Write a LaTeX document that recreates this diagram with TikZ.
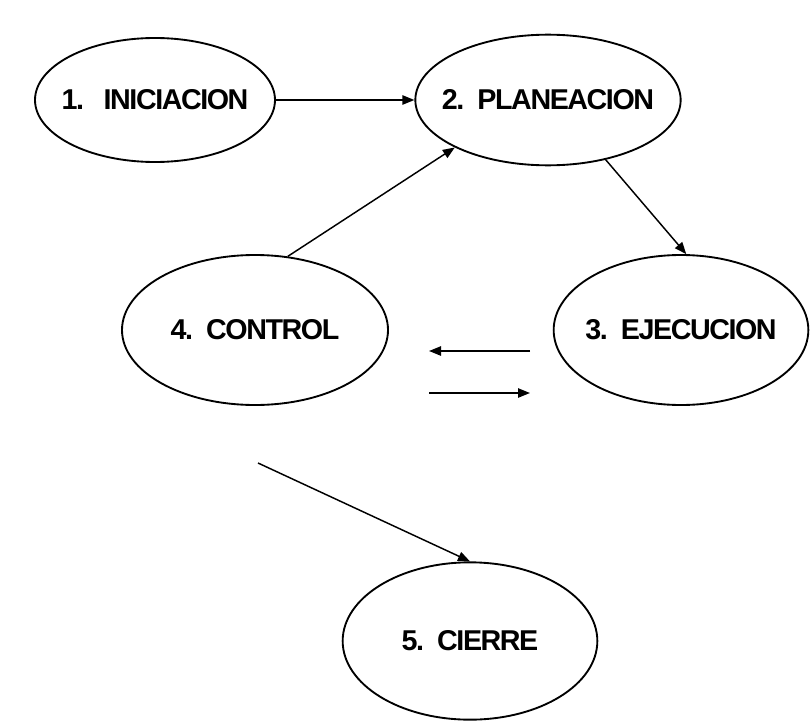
\documentclass[tikz,border=0pt]{standalone}
\usepackage{fontspec}
\setmainfont{Liberation Sans}
\usetikzlibrary{shapes.geometric,arrows.meta}
\begin{document}
\begin{tikzpicture}[x=0.75pt,y=-0.75pt,
  phasetext/.style={inner sep=0pt,
    font=\bfseries\fontsize{21.5}{26}\selectfont\addfontfeature{LetterSpace=-5}},
  phase/.style n args={3}{draw,ellipse,line width=1.4pt,inner sep=0pt,
    minimum width=#1,minimum height=#2,label={[phasetext]center:#3}},
  flow/.style={line width=1.1pt,-{Triangle[length=9pt,width=7pt]}}]
\useasboundingbox (0,0) rectangle (810,724);

% project phases (outline sized independently of the label)
\node[phase={180pt}{93pt}{1.\ \ \ INICIACION}]     (c1) at (155,100) {};
\node[phase={199pt}{98pt}{2.\ \ PLANEACION}]       (c2) at (548,100) {};
\node[phase={191pt}{112.5pt}{3.\ \ EJECUCION}]     (c3) at (681,330) {};
\node[phase={199.5pt}{112.5pt}{4.\ \ CONTROL}]     (c4) at (255,330) {};
\node[phase={191pt}{118pt}{5.\ \ CIERRE}]          (c5) at (470,641) {};

% free ends of the loose arrows
\coordinate (e3out) at (530,351);
\coordinate (c4in)  at (429,351);
\coordinate (c4out) at (429,393);
\coordinate (e3in)  at (530,393);
\coordinate (c4low) at (258,463);

% transitions
\draw[flow] (c1) -- (c2);
\draw[flow] (c4.66) -- (c2.207);
\draw[flow] (c2.-46) -- (c3.86);
\draw[flow] (e3out) -- (c4in);
\draw[flow] (c4out) -- (e3in);
\draw[flow] (c4low) -- (c5.north);
\end{tikzpicture}
\end{document}
